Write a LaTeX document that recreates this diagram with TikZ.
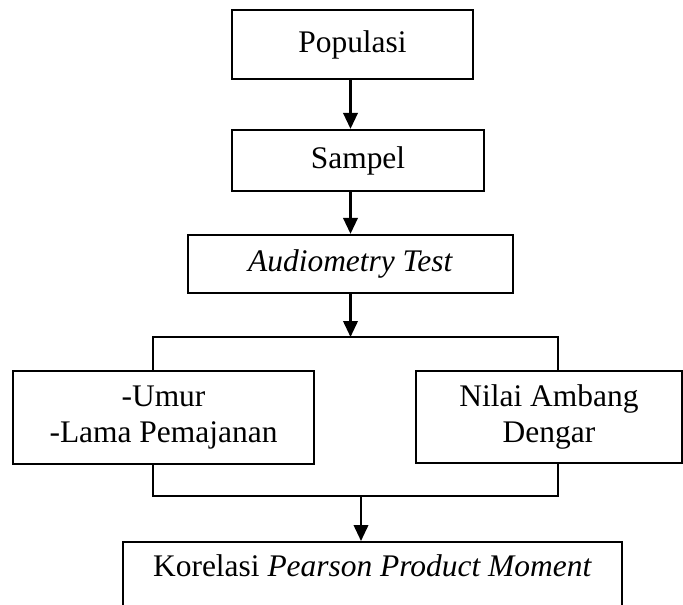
\documentclass[tikz,border=0pt]{standalone}
\usepackage{fontspec}
\setmainfont{Liberation Serif}
\usetikzlibrary{positioning, calc, arrows.meta}

\begin{document}
\begin{tikzpicture}[
  x=0.02cm, y=-0.02cm,
  box/.style={draw, line width=1.3pt, inner sep=0pt, align=center,
    font=\fontsize{17.9}{21}\selectfont},
  flow/.style={-{Triangle[length=0.32cm, width=0.29cm]}, line width=1.3pt},
  wire/.style={line width=1.3pt}
]
  \useasboundingbox (0,0) rectangle (683,605);
  \clip (0,0) rectangle (683,605);

  % main column
  \node[box, minimum width=4.82cm, minimum height=1.38cm] (pop) at (352.5,44.5) {Populasi};
  \node[box, minimum width=5.04cm, minimum height=1.22cm] (samp) at (358,160.5) {Sampel};
  \node[box, minimum width=6.5cm, minimum height=1.16cm] (audio) at (350.5,264) {\textit{Audiometry Test}};

  % the two variables
  \node[box, minimum width=6.02cm, minimum height=1.86cm] (umur) at (163.5,417.5) {-Umur\\-Lama Pemajanan};
  \node[box, minimum width=5.32cm, minimum height=1.84cm] (nab) at (549,417) {Nilai Ambang\\Dengar};

  % result, runs off the page
  \node[box, anchor=north, minimum width=9.98cm, text height=0.68cm, text depth=1.4cm]
    (korel) at (372.5,541) {Korelasi \textit{Pearson Product Moment}};

  \draw[flow] (pop.south -| audio.north) -- (samp.north -| audio.north);
  \draw[flow] (samp.south -| audio.north) -- (audio.north);

  % split into the two boxes
  \coordinate (split) at (350.5,337);
  \coordinate (lsplit) at (153,337);
  \coordinate (rsplit) at (558,337);
  \draw[flow] (audio.south) -- (split);
  \draw[wire] (lsplit |- umur.north) -- (lsplit) -- (rsplit) -- (rsplit |- nab.north);

  % join again
  \coordinate (join) at (361,496);
  \coordinate (ljoin) at (153,496);
  \coordinate (rjoin) at (558,496);
  \draw[wire] (ljoin |- umur.south) -- (ljoin) -- (rjoin) -- (rjoin |- nab.south);
  \draw[flow] (join) -- (join |- korel.north);
\end{tikzpicture}
\end{document}
